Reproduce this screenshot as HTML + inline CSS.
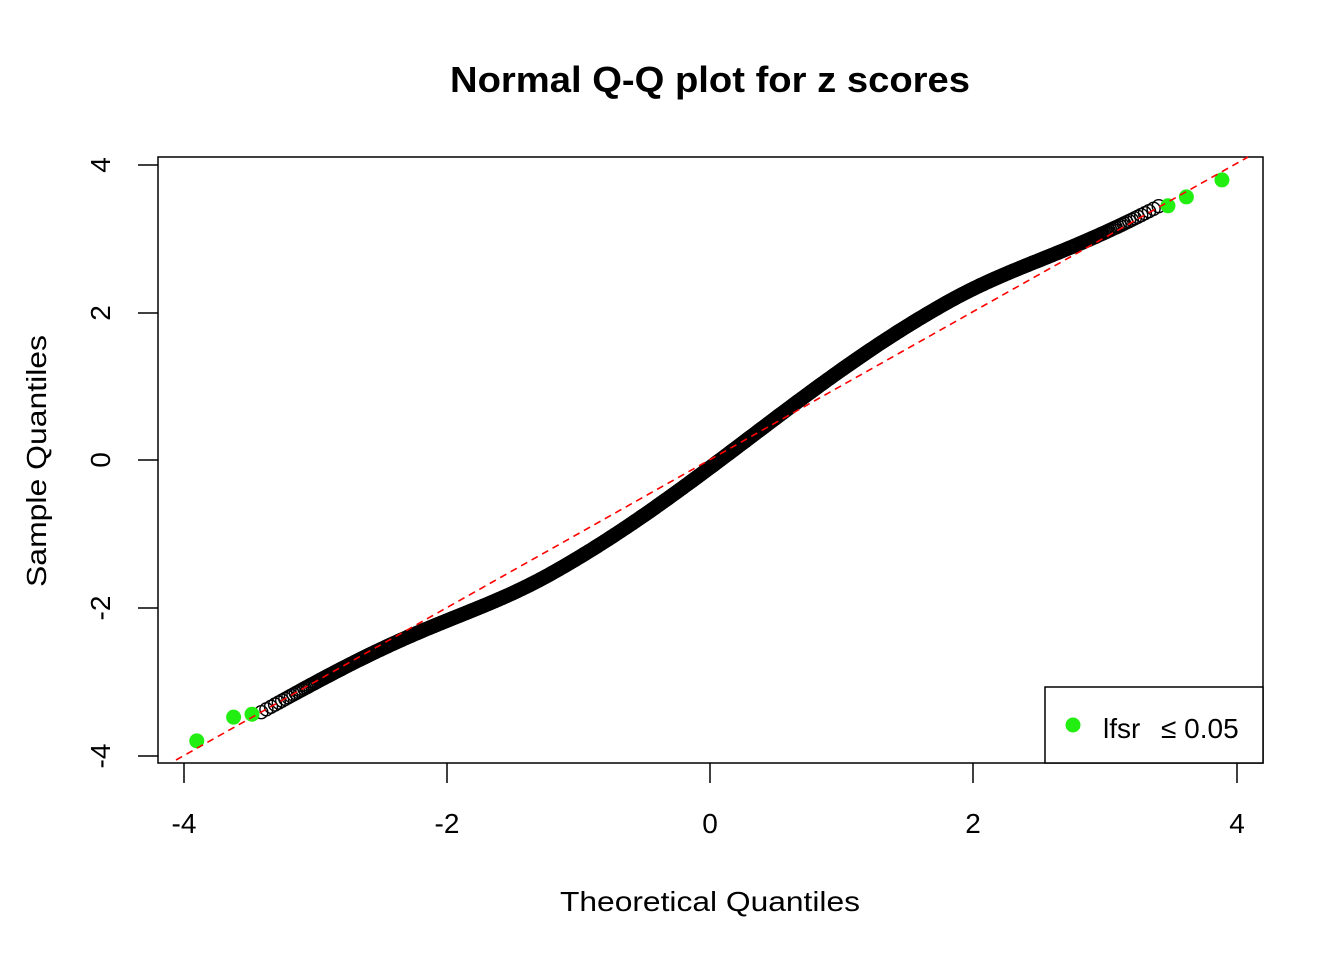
<!DOCTYPE html>
<html><head><meta charset="utf-8"><style>
html,body{margin:0;padding:0;background:#fff}
svg{display:block}
text{font-family:"Liberation Sans",Arial,sans-serif;fill:#000}
</style></head><body>
<svg id="s" width="1344" height="960" viewBox="0 0 1344 960" xmlns="http://www.w3.org/2000/svg">
<text x="710" y="92" font-size="36" font-weight="bold" text-anchor="middle" textLength="520" lengthAdjust="spacingAndGlyphs">Normal Q-Q plot for z scores</text>
<rect x="158" y="157" width="1105" height="606" fill="none" stroke="#000" stroke-width="1.5"/>
<g stroke="#000" stroke-width="1.5">
<line x1="184" y1="763" x2="184" y2="783"/><line x1="447" y1="763" x2="447" y2="783"/><line x1="710" y1="763" x2="710" y2="783"/><line x1="973" y1="763" x2="973" y2="783"/><line x1="1237" y1="763" x2="1237" y2="783"/>
<line x1="138" y1="165" x2="158" y2="165"/><line x1="138" y1="313" x2="158" y2="313"/><line x1="138" y1="460" x2="158" y2="460"/><line x1="138" y1="608" x2="158" y2="608"/><line x1="138" y1="756" x2="158" y2="756"/>
</g>
<g font-size="28" text-anchor="middle">
<text x="184" y="833">-4</text><text x="447" y="833">-2</text><text x="710" y="833">0</text><text x="973" y="833">2</text><text x="1237" y="833">4</text>
<text transform="translate(110,165) rotate(-90)">4</text>
<text transform="translate(110,313) rotate(-90)">2</text>
<text transform="translate(110,460) rotate(-90)">0</text>
<text transform="translate(110,608) rotate(-90)">-2</text>
<text transform="translate(110,756) rotate(-90)">-4</text>
<text x="710" y="911" textLength="300" lengthAdjust="spacingAndGlyphs">Theoretical Quantiles</text>
<text transform="translate(46,461) rotate(-90)" textLength="252" lengthAdjust="spacingAndGlyphs">Sample Quantiles</text>
</g>
<g id="pts" fill="none" stroke="#000" stroke-width="1.4"></g>
<g id="gr" fill="#22ee11"></g>
<line x1="176" y1="760" x2="1248" y2="157" stroke="#ff0000" stroke-width="1.6" stroke-dasharray="7,5"/>
<rect x="1045" y="687" width="218" height="76" fill="#fff" stroke="#000" stroke-width="1.5"/>
<circle cx="1073" cy="725" r="7.5" fill="#22ee11"/>
<text x="1103" y="738" font-size="28">lfsr</text>
<text x="1161" y="738" font-size="28">≤ 0.05</text>
</svg>
<script>
function X(v){return 710+v*131.6}
function Y(v){return 460-v*73.9}
function off(x){
 if(x<=-1.2) return -0.33*Math.exp(-Math.pow((x+1.2)/1.0,2));
 if(x>=1.8) return 0.33*Math.exp(-Math.pow((x-1.8)/1.0,2));
 return 0.33*Math.sin(Math.PI*(x-0.3)/3.0);}
function qn(p){
var a=[-3.969683028665376e+01,2.209460984245205e+02,-2.759285104469687e+02,1.383577518672690e+02,-3.066479806614716e+01,2.506628277459239e+00],
b=[-5.447609879822406e+01,1.615858368580409e+02,-1.556989798598866e+02,6.680131188771972e+01,-1.328068155288572e+01],
c=[-7.784894002430293e-03,-3.223964580411365e-01,-2.400758345788208e+00,-2.549671039198402e+00,4.374664141464968e+00,2.938163982698783e+00],
d=[7.784695709041462e-03,3.224671290700398e-01,2.445134137142996e+00,3.754408661907416e+00];
var q,r;
if(p<0.02425){q=Math.sqrt(-2*Math.log(p));return (((((c[0]*q+c[1])*q+c[2])*q+c[3])*q+c[4])*q+c[5])/((((d[0]*q+d[1])*q+d[2])*q+d[3])*q+1);}
if(p>1-0.02425){q=Math.sqrt(-2*Math.log(1-p));return -(((((c[0]*q+c[1])*q+c[2])*q+c[3])*q+c[4])*q+c[5])/((((d[0]*q+d[1])*q+d[2])*q+d[3])*q+1);}
q=p-0.5;r=q*q;return (((((a[0]*r+a[1])*r+a[2])*r+a[3])*r+a[4])*r+a[5])*q/(((((b[0]*r+b[1])*r+b[2])*r+b[3])*r+b[4])*r+1);}
var n=20000,s="",lx=-1e9,ly=-1e9;
for(var i=5;i<n-5;i++){var x=qn((i+0.5)/n);if(x<-3.42||x>3.42)continue;var y=x+off(x);var px=X(x),py=Y(y);
 if(Math.abs(px-lx)+Math.abs(py-ly)<1.2)continue;lx=px;ly=py;
 s+='<circle cx="'+px.toFixed(1)+'" cy="'+py.toFixed(1)+'" r="6.5"/>';}
document.getElementById('pts').innerHTML=s;
var g=[[-3.9,-3.8],[-3.62,-3.48],[-3.48,-3.44],[3.48,3.44],[3.62,3.56],[3.89,3.79]],t="";
g.forEach(function(p){t+='<circle cx="'+X(p[0])+'" cy="'+Y(p[1])+'" r="7.5"/>';});
document.getElementById('gr').innerHTML=t;
</script>
</body></html>
